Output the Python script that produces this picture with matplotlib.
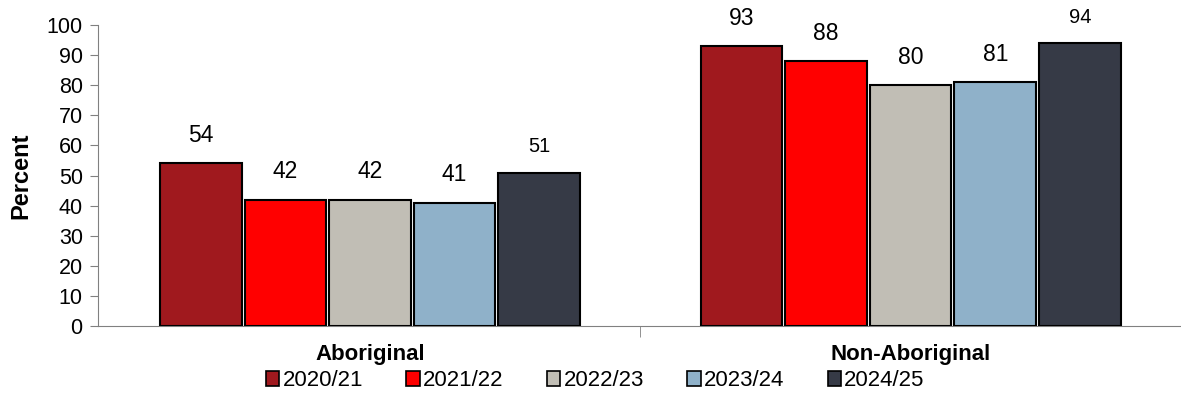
import numpy as np
import matplotlib.pyplot as plt
from matplotlib.patches import Patch

plt.rcParams['font.family'] = ['Liberation Sans', 'DejaVu Sans']

groups = ['Aboriginal', 'Non-Aboriginal']
years = ['2020/21', '2021/22', '2022/23', '2023/24', '2024/25']
values = {
    '2020/21': [54, 93],
    '2021/22': [42, 88],
    '2022/23': [42, 80],
    '2023/24': [41, 81],
    '2024/25': [51, 94],
}
colors = ['#A0191E', '#FF0000', '#C1BEB5', '#8FB1C9', '#363A46']

fig = plt.figure(figsize=(11.81, 3.98), dpi=100)
ax = fig.add_axes([0.083, 0.181, 0.917, 0.756])

x = np.arange(len(groups))
width = 0.151
pitch = 0.1565
for i, yr in enumerate(years):
    pos = x + (i - 2) * pitch
    bars = ax.bar(pos, values[yr], width, color=colors[i], edgecolor='black', linewidth=1.5, zorder=3)
    fs = 14.5 if i == 4 else 16.5
    for b, v in zip(bars, values[yr]):
        ax.text(b.get_x() + b.get_width() / 2, v + 5.5, str(v), ha='center', va='bottom', fontsize=fs)

ax.set_ylim(0, 100)
ax.set_xlim(-0.503, 1.5)
ax.set_yticks(range(0, 101, 10))
ax.tick_params(axis='y', labelsize=15.5, direction='out', length=6, color='#808080', pad=5)
ax.set_ylabel('Percent', fontsize=17, fontweight='bold', labelpad=10)

ax.set_xticks(x)
ax.set_xticklabels(groups, fontsize=16, fontweight='bold')
ax.tick_params(axis='x', length=0, pad=13)
ax.set_xticks([0.5], minor=True)
ax.tick_params(axis='x', which='minor', length=8, color='#808080', direction='out')

for s in ['top', 'right']:
    ax.spines[s].set_visible(False)
ax.spines['left'].set_color('#808080')
ax.spines['bottom'].set_color('#808080')

handles = [Patch(facecolor=c, edgecolor='black', linewidth=1.2) for c in colors]
fig.legend(handles, years, loc='center', bbox_to_anchor=(0.504, 0.043), ncol=5, frameon=False,
           fontsize=16, handlelength=0.6, handleheight=0.6, handletextpad=0.15, columnspacing=1.95,
           borderaxespad=0, borderpad=0)

fig.savefig('out.png', dpi=100)
